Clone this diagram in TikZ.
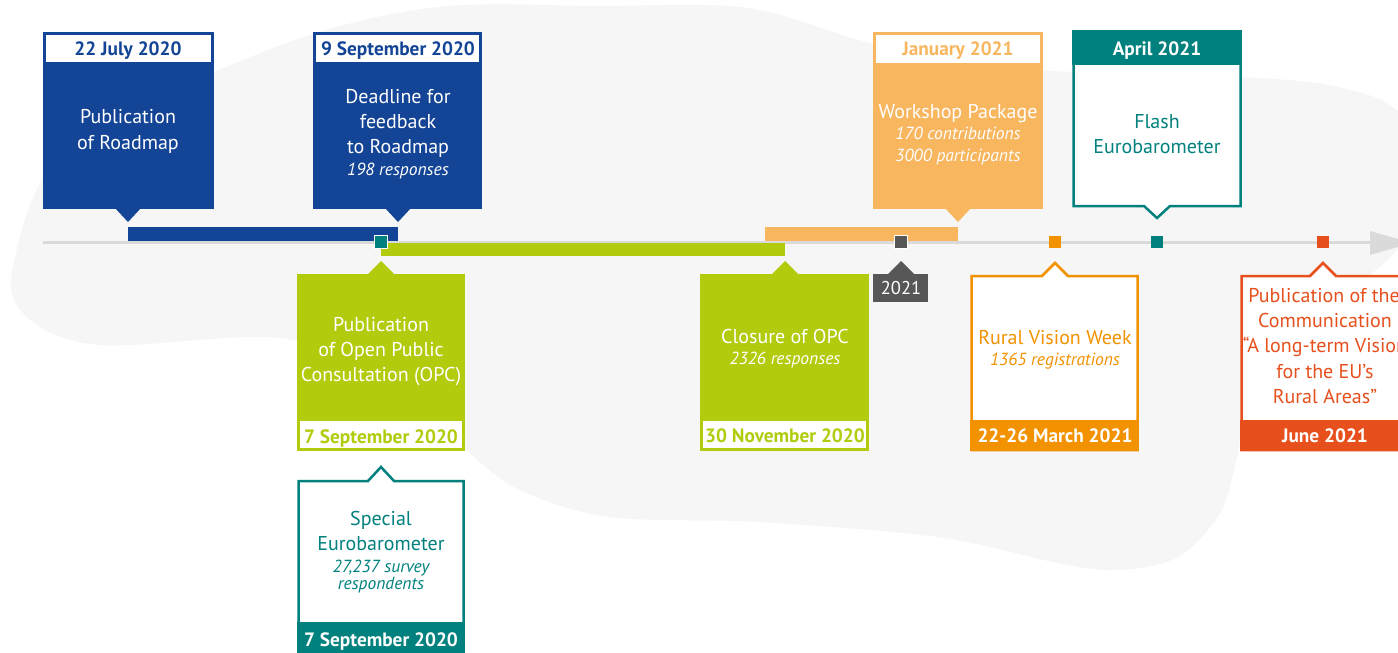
\documentclass[tikz,border=0pt]{standalone}
\usepackage{fontspec}
\setmainfont{PT Sans}
\definecolor{eublue}{HTML}{134496}
\definecolor{eugreen}{HTML}{B2CB0C}
\definecolor{lorange}{HTML}{F8B65F}
\definecolor{euteal}{HTML}{00817E}
\definecolor{euorange}{HTML}{F39200}
\definecolor{eured}{HTML}{E7501D}
\definecolor{dgray}{HTML}{575757}
\definecolor{lgray}{HTML}{DADADA}
\definecolor{blob}{HTML}{F6F6F6}
\begin{document}
\begin{tikzpicture}[x=1pt,y=-1pt,
  reg/.style={anchor=base,inner sep=0pt,font=\fontsize{20}{24}\selectfont},
  ita/.style={anchor=base,inner sep=0pt,font=\fontsize{17.5}{21}\selectfont\itshape},
  hdr/.style={anchor=base,inner sep=0pt,font=\fontsize{19.3}{23}\selectfont\bfseries},
  outl/.style={fill=white,line width=2.5pt,line join=miter},
  marker/.style={minimum size=13pt,inner sep=0pt,draw=white,line width=1.5pt},
  plainmarker/.style={minimum size=12pt,inner sep=0pt}]
\clip (0,0) rectangle (1398,653);
\fill[white] (0,0) rectangle (1398,653);
% background blob
\fill[blob] plot[smooth cycle,tension=0.55] coordinates {
 (429,8) (600,6) (748,8) (870,43) (1000,68) (1241,77) (1338,87) (1398,112) (1425,180)
 (1397,250) (1300,330) (1248,400) (1237,457) (1220,513) (1178,557) (1118,570)
 (1058,563) (938,537) (759,522) (610,517) (520,490) (467,450) (400,378) (280,338)
 (100,345) (27,317) (13,267) (67,150) (268,50)};

% timeline axis
\coordinate (axs) at (43,242);
\coordinate (axe) at (1372,242);
\draw[lgray,line width=3pt] (axs) -- (axe);
\fill[lgray] (1370,231) -- (1412,243) -- (1370,255) -- cycle;

% ---------- Box 1: 22 July 2020
\fill[eublue] (43,32) rectangle (214,209);
\fill[eublue] (115,208) -- (128,222) -- (141,208) -- cycle;
\fill[white] (46,35) rectangle (211,62);
\node[hdr,text=eublue] (h1) at (128,55) {22 July 2020};
\node[reg,text=white] (b1a) at (128,123) {Publication};
\node[reg,text=white] (b1b) at (128,149) {of Roadmap};

% ---------- Box 2: 9 September 2020
\fill[eublue] (313,32) rectangle (482,209);
\fill[eublue] (385,208) -- (398,222) -- (411,208) -- cycle;
\fill[white] (316,35) rectangle (479,62);
\node[hdr,text=eublue] (h2) at (398,55) {9 September 2020};
\node[reg,text=white] (b2a) at (398,103) {Deadline for};
\node[reg,text=white] (b2b) at (398,128) {feedback};
\node[reg,text=white] (b2c) at (398,153) {to Roadmap};
\node[ita,text=white] (b2d) at (398,175) {198 responses};

% blue span
\coordinate (s1) at (128,227);
\coordinate (e1) at (398,241);
\fill[eublue] (s1) rectangle (e1);

% ---------- Workshop
\fill[lorange] (873,32) rectangle (1043,209);
\fill[lorange] (945,208) -- (958,222) -- (971,208) -- cycle;
\fill[white] (876,35) rectangle (1040,63);
\node[hdr,text=lorange] (h3) at (958,55) {January 2021};
\node[reg,text=white] (b3a) at (958,118) {Workshop Package};
\node[ita,text=white] (b3b) at (958,139) {170 contributions};
\node[ita,text=white] (b3c) at (958,161) {3000 participants};
\coordinate (s3) at (765,227);
\coordinate (e3) at (958,241);
\fill[lorange] (s3) rectangle (e3);

% green span
\coordinate (s2) at (381,243);
\coordinate (e2) at (785,256);
\fill[eugreen] (s2) rectangle (e2);

% ---------- Flash Eurobarometer
\draw[outl,draw=euteal] (1073.5,31.5) -- (1240.5,31.5) -- (1240.5,206) -- (1170,206) -- (1157,218) -- (1144,206) -- (1073.5,206) -- cycle;
\fill[euteal] (1072,30) rectangle (1242,65);
\node[hdr,text=white] (h4) at (1157,55) {April 2021};
\node[reg,text=euteal] (b4a) at (1157,128) {Flash};
\node[reg,text=euteal] (b4b) at (1157,153) {Eurobarometer};

% ---------- Green box: OPC publication
\fill[eugreen] (297,274) rectangle (465,451);
\fill[eugreen] (367,275) -- (381,261) -- (395,275) -- cycle;
\fill[white] (300,421) rectangle (462,448);
\node[reg,text=white] (g1a) at (381,331) {Publication};
\node[reg,text=white] (g1b) at (381,356) {of Open Public};
\node[reg,text=white] (g1c) at (381,381) {Consultation (OPC)};
\node[hdr,text=eugreen] (g1d) at (381,443) {7 September 2020};

% ---------- Special Eurobarometer
\draw[outl,draw=euteal] (298.5,481) -- (368,481) -- (381,467) -- (394,481) -- (463.5,481) -- (463.5,670) -- (298.5,670) -- cycle;
\fill[euteal] (297,622) rectangle (465,670);
\node[reg,text=euteal] (t1a) at (381,525) {Special};
\node[reg,text=euteal] (t1b) at (381,550) {Eurobarometer};
\node[ita,text=euteal] (t1c) at (381,572) {27,237 survey};
\node[ita,text=euteal] (t1d) at (381,589) {respondents};
\node[hdr,text=white] (t1e) at (381,646) {7 September 2020};

% ---------- Green box: closure
\fill[eugreen] (700,274) rectangle (869,451);
\fill[eugreen] (771,275) -- (785,261) -- (799,275) -- cycle;
\fill[white] (703,421) rectangle (866,448);
\node[reg,text=white] (g2a) at (785,343) {Closure of OPC};
\node[ita,text=white] (g2b) at (785,364) {2326 responses};
\node[hdr,text=eugreen] (g2c) at (785,442) {30 November 2020};

% ---------- 2021 tag
\fill[dgray] (873,274) rectangle (928,302);
\fill[dgray] (887,275) -- (901,261) -- (915,275) -- cycle;
\node[reg,text=white,font=\fontsize{18.5}{22}\selectfont] (y21) at (901,294.5) {2021};

% ---------- Rural Vision Week
\draw[outl,draw=euorange] (971.5,276) -- (1042,276) -- (1055,263) -- (1068,276) -- (1137.5,276) -- (1137.5,450) -- (971.5,450) -- cycle;
\fill[euorange] (970,420) rectangle (1139,451);
\node[reg,text=euorange] (r1a) at (1055,344) {Rural Vision Week};
\node[ita,text=euorange] (r1b) at (1055,365) {1365 registrations};
\node[hdr,text=white] (r1c) at (1055,442) {22-26 March 2021};

% ---------- Communication
\draw[outl,draw=eured] (1241.5,276) -- (1310,276) -- (1323,263) -- (1336,276) -- (1412,276) -- (1412,450) -- (1241.5,450) -- cycle;
\fill[eured] (1240,420) rectangle (1412,451);
\begin{scope}[every node/.append style={font=\fontsize{19}{23}\selectfont}]
\node[reg,text=eured] (c1a) at (1324,302) {Publication of the};
\node[reg,text=eured] (c1b) at (1325,327) {Communication};
\node[reg,text=eured] (c1c) at (1325,352) {“A long-term Vision};
\node[reg,text=eured] (c1d) at (1325,378) {for the EU’s};
\node[reg,text=eured] (c1e) at (1325,403) {Rural Areas”};
\end{scope}
\node[hdr,text=white] (c1f) at (1325,442) {June 2021};

% ---------- markers on the axis
\node[marker,fill=euteal] (m1) at (381,242) {};
\node[marker,fill=dgray] (m2) at (901,242) {};
\node[plainmarker,fill=euorange] (m3) at (1055,242) {};
\node[plainmarker,fill=euteal] (m4) at (1157,242) {};
\node[plainmarker,fill=eured] (m5) at (1323,242) {};
\end{tikzpicture}
\end{document}
